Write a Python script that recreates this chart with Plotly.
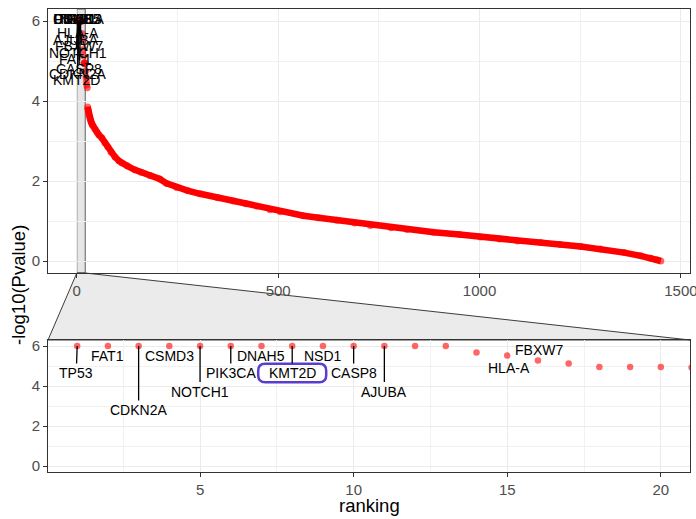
import plotly.graph_objects as go

# ---------------- data ----------------
ranks = [1, 2, 3, 4, 5, 6, 7, 8, 9, 10, 11, 12, 13, 14, 15, 16, 17, 18, 19, 20,
         21, 22, 23, 24, 25, 26, 27, 28, 29, 30, 32, 34, 36, 38, 40, 45, 50, 55,
         62, 70, 77, 85, 95, 105, 112, 125, 144, 160, 182, 206, 223, 248, 275,
         306, 350, 389, 420, 447, 480, 505, 563, 600, 646, 690, 729, 780, 820,
         886, 950, 1002, 1050, 1094, 1152, 1200, 1251, 1300, 1359, 1400, 1425,
         1440, 1450]
neg_log10_p = [6.0, 6.0, 6.0, 6.0, 6.0, 6.0, 6.0, 6.0, 6.0, 6.0, 6.0, 6.0, 6.0,
               5.68, 5.52, 5.28, 5.13, 4.95, 4.95, 4.95,
               4.93, 4.75, 4.60, 4.50, 4.40, 4.33, 3.85, 3.78, 3.72, 3.65,
               3.58, 3.52, 3.47, 3.42, 3.38, 3.30, 3.22, 3.15,
               3.08, 2.95, 2.85, 2.72, 2.60, 2.50, 2.45, 2.38, 2.28, 2.22, 2.14,
               2.05, 1.94, 1.84, 1.76, 1.68, 1.58, 1.50, 1.43, 1.37, 1.28, 1.23,
               1.13, 1.08, 1.02, 0.95, 0.89, 0.83, 0.79, 0.72, 0.66, 0.60, 0.55,
               0.50, 0.46, 0.41, 0.36, 0.30, 0.21, 0.13, 0.07, 0.03, 0.00]
assert len(ranks) == len(neg_log10_p)

label_genes = ["TP53", "FAT1", "CDKN2A", "CSMD3", "NOTCH1", "PIK3CA", "DNAH5",
               "KMT2D", "NSD1", "CASP8", "AJUBA", "HLA-A", "FBXW7"]
label_ranks = [1, 2, 3, 4, 5, 6, 7, 8, 9, 10, 11, 14, 15]
highlight_gene = "KMT2D"

zoom_xlim = [1, 20]
top_xticks = [0, 500, 1000, 1500]
y_ticks = [0, 2, 4, 6]
bottom_xticks = [5, 10, 15, 20]

# ---------------- layout / style ----------------
FONT = "Liberation Sans"
W, H = 696, 519
ML, MR, MT, MB = 48, 6, 9, 47
plot_h = H - MT - MB
top_dom = [(472 - 273) / plot_h, 1.0]
bot_dom = [0.0, (472 - 340) / plot_h]

n = max(ranks)
span = n - min(ranks)
top_xrange = [min(ranks) - 0.05 * span, n + 0.05 * span]
zspan = zoom_xlim[1] - zoom_xlim[0]
zoom_xrange = [zoom_xlim[0] - 0.05 * zspan, zoom_xlim[1] + 0.05 * zspan]
ymax = max(neg_log10_p)
yrange = [-0.05 * ymax, ymax * 1.05]

pt_color = "rgba(255,0,0,0.6)"

value_of = dict(zip(ranks, neg_log10_p))

# label placements (text centres) in data units
top_label_pos = {
    "TP53": (-4, 6.05), "CSMD3": (2, 6.05), "PIK3CA": (6, 6.05),
    "DNAH5": (0, 6.05), "NSD1": (4, 6.05),
    "HLA-A": (3, 5.70), "AJUBA": (-3, 5.53), "FBXW7": (6, 5.38),
    "NOTCH1": (4, 5.20), "FAT1": (-2, 5.06), "CASP8": (6, 4.79),
    "CDKN2A": (2, 4.67), "KMT2D": (0, 4.52),
}
bot_label_pos = {
    "TP53": (0.97, 4.65, True), "FAT1": (2.0, 5.5, False),
    "CDKN2A": (3.0, 2.8, True), "CSMD3": (4.0, 5.5, False),
    "NOTCH1": (5.0, 3.72, True), "PIK3CA": (6.0, 4.65, True),
    "DNAH5": (7.0, 5.5, False), "KMT2D": (8.0, 4.65, True),
    "NSD1": (9.0, 5.5, False), "CASP8": (10.0, 4.65, True),
    "AJUBA": (11.0, 3.72, True), "HLA-A": (15.05, 4.92, False),
    "FBXW7": (16.05, 5.80, False),
}

fig = go.Figure()

# top panel: continuous part as a thick line + all points
line_r = [r for r in ranks if r >= 27]
line_v = [value_of[r] for r in line_r]
fig.add_trace(go.Scatter(x=line_r, y=line_v, mode="lines",
                         line=dict(color="#ff0000", width=6.5),
                         xaxis="x", yaxis="y", hoverinfo="skip", showlegend=False))
fig.add_trace(go.Scatter(x=ranks, y=neg_log10_p, mode="markers",
                         marker=dict(color=pt_color, size=7, line=dict(width=0)),
                         xaxis="x", yaxis="y", showlegend=False))
# bottom (zoom) panel
fig.add_trace(go.Scatter(x=ranks, y=neg_log10_p, mode="markers",
                         marker=dict(color=pt_color, size=6.5, line=dict(width=0)),
                         xaxis="x2", yaxis="y2", showlegend=False))

annotations = []
lab_font = dict(family=FONT, size=14, color="black")
for g, r in zip(label_genes, label_ranks):
    v = value_of[r]
    lx, ly = top_label_pos[g]
    annotations.append(dict(x=r, y=v, xref="x", yref="y", ax=lx, ay=ly,
                            axref="x", ayref="y", text=g, showarrow=True,
                            arrowhead=0, arrowwidth=1.3, arrowcolor="black",
                            standoff=0, startstandoff=0, font=lab_font))
    bx, by, seg = bot_label_pos[g]
    if seg:
        annotations.append(dict(x=r, y=v, xref="x2", yref="y2", ax=bx, ay=by,
                                axref="x2", ayref="y2", text=g, showarrow=True,
                                arrowhead=0, arrowwidth=1.3, arrowcolor="black",
                                standoff=0, startstandoff=0, font=lab_font))
    else:
        annotations.append(dict(x=bx, y=by, xref="x2", yref="y2", text=g,
                                showarrow=False, font=lab_font))

# axis titles
title_font = dict(family=FONT, size=18.5, color="black")
annotations.append(dict(x=(18 - ML) / (W - ML - MR), y=(472 - 285) / plot_h,
                        xref="paper", yref="paper", text="-log10(Pvalue)",
                        textangle=-90, showarrow=False, xanchor="center",
                        yanchor="middle", font=title_font))
annotations.append(dict(x=0.5, y=(472 - 505) / plot_h, xref="paper", yref="paper",
                        text="ranking", showarrow=False, xanchor="center",
                        yanchor="middle", font=title_font))

shapes = []
# zoom band in the top panel
shapes.append(dict(type="rect", xref="x", yref="paper", x0=zoom_xrange[0],
                   x1=zoom_xrange[1], y0=top_dom[0], y1=top_dom[1],
                   fillcolor="#e6e6e6", line=dict(color="#5a5a5a", width=1),
                   layer="below"))
# connecting trapezoid
def fx(v):
    return (v - top_xrange[0]) / (top_xrange[1] - top_xrange[0])
ta, tb = fx(zoom_xrange[0]), fx(zoom_xrange[1])
yt, yb = top_dom[0], bot_dom[1]
shapes.append(dict(type="path", xref="paper", yref="paper",
                   path=f"M {ta},{yt} L {tb},{yt} L 1,{yb} L 0,{yb} Z",
                   fillcolor="#ebebeb", line=dict(color="#3c3c3c", width=1),
                   layer="below"))
# rounded highlight box around KMT2D in the zoom panel
px_x = (W - ML - MR) / (zoom_xrange[1] - zoom_xrange[0])
px_y = (472 - 340) / (yrange[1] - yrange[0])
cx, cy, _ = bot_label_pos[highlight_gene]
hw, hh, rad = 34 / px_x, 9.2 / px_y, 7.0
rx, ry = rad / px_x, rad / px_y
x0, x1, y0, y1 = cx - hw, cx + hw, cy - hh, cy + hh
box = (f"M {x0+rx},{y1} L {x1-rx},{y1} Q {x1},{y1} {x1},{y1-ry} "
       f"L {x1},{y0+ry} Q {x1},{y0} {x1-rx},{y0} L {x0+rx},{y0} "
       f"Q {x0},{y0} {x0},{y0+ry} L {x0},{y1-ry} Q {x0},{y1} {x0+rx},{y1} Z")
shapes.append(dict(type="path", xref="x2", yref="y2", path=box,
                   line=dict(color="#5a3ccf", width=2.5), layer="above"))

axis_common = dict(showline=True, mirror=True, linecolor="#333333", linewidth=1,
                   ticks="outside", ticklen=4, tickwidth=1, tickcolor="#333333",
                   tickfont=dict(family=FONT, size=15, color="#4d4d4d"),
                   showgrid=True, gridcolor="#ebebeb", gridwidth=1.2,
                   zeroline=False, ticklabeloverflow="allow", automargin=False)

fig.update_layout(
    width=W, height=H,
    margin=dict(l=ML, r=MR, t=MT, b=MB, pad=0, autoexpand=False),
    paper_bgcolor="white", plot_bgcolor="white",
    font=dict(family=FONT),
    xaxis=dict(domain=[0, 1], anchor="y", range=top_xrange, tickvals=top_xticks,
               minor=dict(dtick=250, tick0=0, showgrid=True, gridcolor="#f1f1f1",
                          gridwidth=0.8, ticks=""), **axis_common),
    yaxis=dict(domain=top_dom, anchor="x", range=yrange, tickvals=y_ticks,
               minor=dict(dtick=1, tick0=0, showgrid=True, gridcolor="#f1f1f1",
                          gridwidth=0.8, ticks=""), **axis_common),
    xaxis2=dict(domain=[0, 1], anchor="y2", range=zoom_xrange, tickvals=bottom_xticks,
                minor=dict(dtick=2.5, tick0=0, showgrid=True, gridcolor="#f1f1f1",
                           gridwidth=0.8, ticks=""), **axis_common),
    yaxis2=dict(domain=bot_dom, anchor="x2", range=yrange, tickvals=y_ticks,
                minor=dict(dtick=1, tick0=0, showgrid=True, gridcolor="#f1f1f1",
                           gridwidth=0.8, ticks=""), **axis_common),
    annotations=annotations,
    shapes=shapes,
    showlegend=False,
)

fig.write_html("out.html")
